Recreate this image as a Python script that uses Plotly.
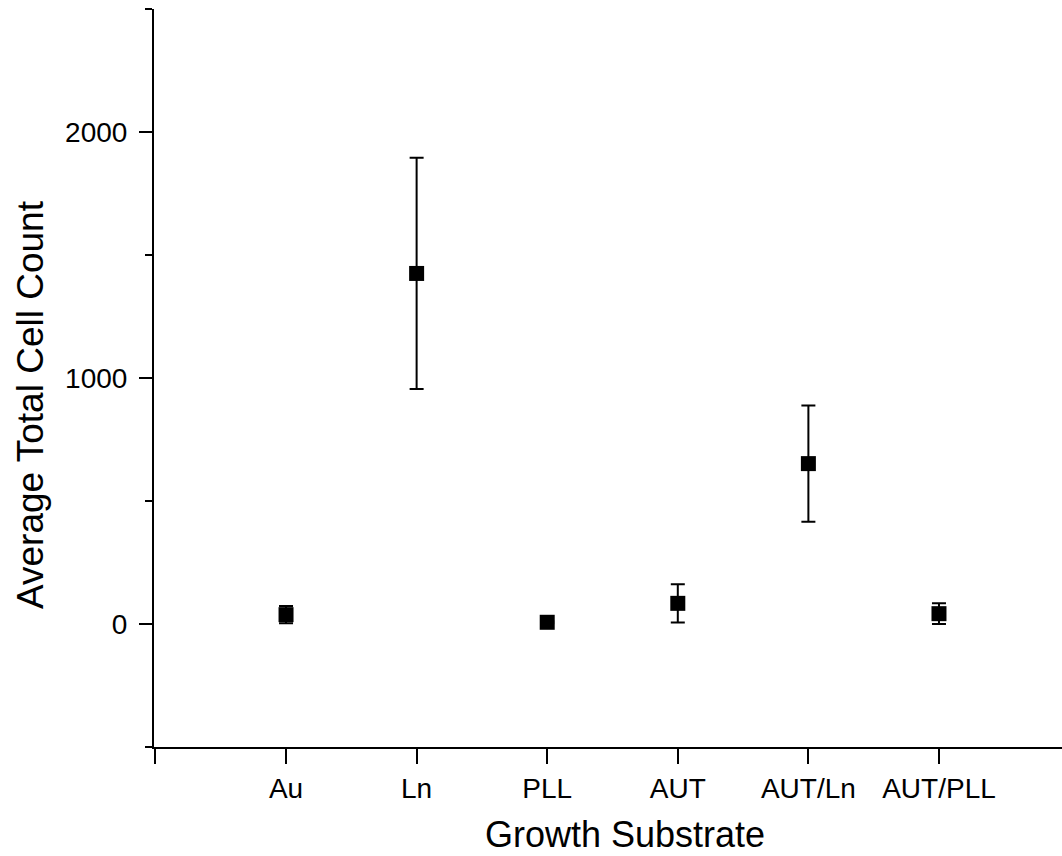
import plotly.graph_objects as go

# Growth substrates and mean total cell counts with their error bars
substrates = ["Au", "Ln", "PLL", "AUT", "AUT/Ln", "AUT/PLL"]
positions = [1, 2, 3, 4, 5, 6]
mean_count = [38, 1425, 7, 84, 652, 42]
count_err = [35, 470, 4, 78, 236, 42]

y_major = [0, 1000, 2000]
y_minor = [-500, 500, 1500, 2500]

FONT = "Liberation Sans, Arial, sans-serif"

fig = go.Figure()
fig.add_trace(go.Scatter(
    x=positions,
    y=mean_count,
    mode="markers",
    marker=dict(symbol="square", size=15, color="black", line=dict(width=0)),
    error_y=dict(type="data", array=count_err, visible=True,
                 color="black", thickness=2, width=7),
    showlegend=False,
))

fig.update_layout(
    width=1062,
    height=856,
    margin=dict(l=154, r=0, t=9, b=109),
    paper_bgcolor="white",
    plot_bgcolor="white",
    font=dict(family=FONT, color="black"),
)

fig.update_xaxes(
    range=[-0.011, 6.942],
    tickvals=[0] + positions + [7],
    ticktext=[""] + substrates + [""],
    ticks="outside",
    ticklen=15,
    tickwidth=2,
    tickcolor="black",
    showline=True,
    linewidth=2,
    linecolor="black",
    showgrid=False,
    zeroline=False,
    tickfont=dict(size=28, family=FONT),
)

fig.update_yaxes(
    range=[-500, 2500],
    tickvals=y_major,
    ticktext=[str(v) for v in y_major],
    ticks="outside",
    ticklen=13,
    tickwidth=2,
    tickcolor="black",
    minor=dict(tickvals=y_minor, ticks="outside", ticklen=7, tickwidth=2, tickcolor="black"),
    showline=True,
    linewidth=2,
    linecolor="black",
    showgrid=False,
    zeroline=False,
    tickfont=dict(size=28, family=FONT),
    ticklabelstandoff=6,
)

# Axis titles
fig.add_annotation(
    text="Growth Substrate", xref="paper", yref="paper",
    x=0.5187, y=0, xanchor="center", yanchor="middle", yshift=-87,
    showarrow=False, borderpad=0, font=dict(size=36, family=FONT, color="black"),
)
fig.add_annotation(
    text="Average Total Cell Count", xref="paper", yref="paper",
    x=0, y=0.4634, xanchor="center", yanchor="middle", xshift=-124,
    textangle=-90, showarrow=False, font=dict(size=37, family=FONT, color="black"),
)

fig.write_html("out.html")
